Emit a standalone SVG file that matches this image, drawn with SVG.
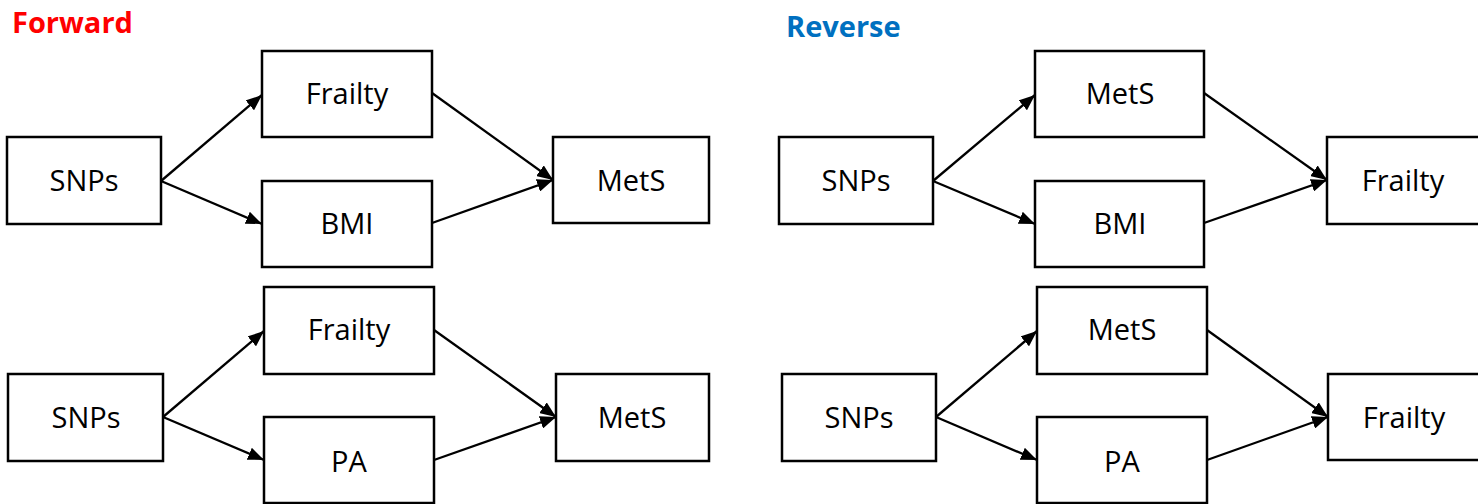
<svg xmlns="http://www.w3.org/2000/svg" width="1478" height="504" viewBox="0 0 1478 504">
<defs>
<marker id="ah" viewBox="0 0 16 13" refX="16" refY="6.5" markerWidth="16" markerHeight="13" markerUnits="userSpaceOnUse" orient="auto">
<path d="M0,0 L16,6.5 L0,13 Z" fill="#000"/>
</marker>
<style>
.box{fill:#fff;stroke:#000;stroke-width:2.5}
.lbl{font-family:"Open Sans","Noto Sans",sans-serif;font-size:29px;fill:#000;text-anchor:middle}
.ttl{font-family:"Open Sans","Noto Sans",sans-serif;font-size:29px;font-weight:bold}
.con{stroke:#000;stroke-width:2.3;fill:none;marker-end:url(#ah)}
</style>
</defs>
<rect width="1478" height="504" fill="#fff"/>
<text class="ttl" x="12" y="33" fill="#FF0000">Forward</text>
<text class="ttl" x="786" y="37" fill="#0070C0">Reverse</text>

<g id="connectors">
<line class="con" x1="161" y1="181" x2="262" y2="95"/>
<line class="con" x1="161" y1="181" x2="262" y2="224"/>
<line class="con" x1="432" y1="93" x2="553" y2="180"/>
<line class="con" x1="432" y1="223" x2="553" y2="180"/>

<line class="con" x1="933" y1="181" x2="1035" y2="95"/>
<line class="con" x1="933" y1="181" x2="1035" y2="224"/>
<line class="con" x1="1204" y1="93" x2="1327" y2="180"/>
<line class="con" x1="1204" y1="223" x2="1327" y2="180"/>

<line class="con" x1="163" y1="417" x2="264" y2="331"/>
<line class="con" x1="163" y1="417" x2="264" y2="460"/>
<line class="con" x1="434" y1="330" x2="556" y2="417"/>
<line class="con" x1="434" y1="460" x2="556" y2="417"/>

<line class="con" x1="936" y1="417" x2="1037" y2="331"/>
<line class="con" x1="936" y1="417" x2="1037" y2="460"/>
<line class="con" x1="1207" y1="330" x2="1328" y2="417"/>
<line class="con" x1="1207" y1="460" x2="1328" y2="417"/>
</g>

<g id="f1-snps"><rect class="box" x="7" y="137" width="154" height="87"/><text class="lbl" x="84" y="191">SNPs</text></g>
<g id="f1-frailty"><rect class="box" x="262" y="51" width="170" height="86"/><text class="lbl" x="347" y="104">Frailty</text></g>
<g id="f1-bmi"><rect class="box" x="262" y="181" width="170" height="86"/><text class="lbl" x="347" y="234">BMI</text></g>
<g id="f1-mets"><rect class="box" x="553" y="137" width="156" height="86"/><text class="lbl" x="631" y="191">MetS</text></g>

<g id="r1-snps"><rect class="box" x="779" y="137" width="154" height="87"/><text class="lbl" x="856" y="191">SNPs</text></g>
<g id="r1-mets"><rect class="box" x="1035" y="51" width="169" height="86"/><text class="lbl" x="1120" y="104">MetS</text></g>
<g id="r1-bmi"><rect class="box" x="1035" y="181" width="169" height="86"/><text class="lbl" x="1120" y="234">BMI</text></g>
<g id="r1-frailty"><rect class="box" x="1327" y="137" width="153" height="87"/><text class="lbl" x="1403" y="191">Frailty</text></g>

<g id="f2-snps"><rect class="box" x="8" y="374" width="155" height="87"/><text class="lbl" x="86" y="428">SNPs</text></g>
<g id="f2-frailty"><rect class="box" x="264" y="287" width="170" height="87"/><text class="lbl" x="349" y="340">Frailty</text></g>
<g id="f2-pa"><rect class="box" x="264" y="417" width="170" height="86"/><text class="lbl" x="349" y="472">PA</text></g>
<g id="f2-mets"><rect class="box" x="556" y="374" width="153" height="87"/><text class="lbl" x="632" y="428">MetS</text></g>

<g id="r2-snps"><rect class="box" x="782" y="374" width="154" height="87"/><text class="lbl" x="859" y="428">SNPs</text></g>
<g id="r2-mets"><rect class="box" x="1037" y="287" width="170" height="87"/><text class="lbl" x="1122" y="340">MetS</text></g>
<g id="r2-pa"><rect class="box" x="1037" y="417" width="170" height="86"/><text class="lbl" x="1122" y="472">PA</text></g>
<g id="r2-frailty"><rect class="box" x="1328" y="374" width="152" height="86"/><text class="lbl" x="1404" y="428">Frailty</text></g>
</svg>
